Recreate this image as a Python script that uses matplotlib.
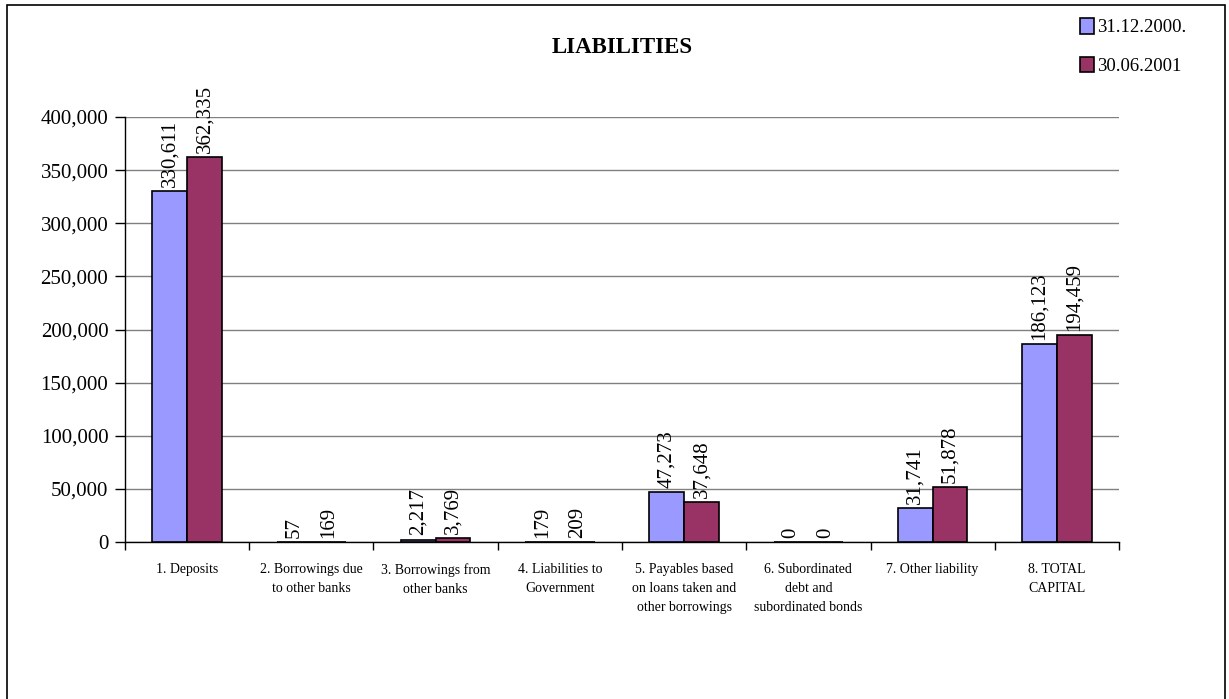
import numpy as np
import matplotlib
matplotlib.use('Agg')
import matplotlib.pyplot as plt
from matplotlib.ticker import FuncFormatter, MultipleLocator
from matplotlib.patches import Rectangle

plt.rcParams['font.family'] = ['Liberation Serif', 'DejaVu Serif']

categories = ['1. Deposits', '2. Borrowings due\nto other banks', '3. Borrowings from\nother banks',
              '4. Liabilities to\nGovernment', '5. Payables based\non loans taken and\nother borrowings',
              '6. Subordinated\ndebt and\nsubordinated bonds', '7. Other liability', '8. TOTAL\nCAPITAL']
series_names = ['31.12.2000.', '30.06.2001']
vals_2000 = [330611, 57, 2217, 179, 47273, 0, 31741, 186123]
vals_2001 = [362335, 169, 3769, 209, 37648, 0, 51878, 194459]
colors = ['#9999FF', '#993366']

fig = plt.figure(figsize=(12.29, 6.99), dpi=100)
ax = fig.add_axes([0.1017, 0.2246, 0.8088, 0.608])

# outer chart frame
fig.patches.append(Rectangle((7 / 1229, -0.05), 1218 / 1229, 1.05 - 5 / 699,
                             transform=fig.transFigure, fill=False, edgecolor='black', lw=1.2))

x = np.arange(len(categories))
w = 0.28
b1 = ax.bar(x - w / 2, vals_2000, w, color=colors[0], edgecolor='black', lw=1.2, label=series_names[0], zorder=3)
b2 = ax.bar(x + w / 2, vals_2001, w, color=colors[1], edgecolor='black', lw=1.2, label=series_names[1], zorder=3)

fmt = lambda v: f'{int(v):,}'
ax.bar_label(b1, labels=[fmt(v) for v in vals_2000], rotation=90, padding=3, fontsize=15)
ax.bar_label(b2, labels=[fmt(v) for v in vals_2001], rotation=90, padding=3, fontsize=15)

ax.set_xlim(-0.5, len(categories) - 0.5)
ax.set_ylim(0, 400000)
ax.yaxis.set_major_locator(MultipleLocator(50000))
ax.yaxis.set_major_formatter(FuncFormatter(lambda v, p: f'{int(v):,}'))
ax.grid(axis='y', color='#808080', lw=1, zorder=0)
ax.tick_params(axis='y', labelsize=15, length=7, direction='out', width=1, pad=5)

ax.set_xticks(x)
ax.set_xticklabels(categories, fontsize=10, linespacing=1.6)
ax.tick_params(axis='x', length=0, pad=15)
ax.set_xticks(np.arange(len(categories) + 1) - 0.5, minor=True)
ax.tick_params(axis='x', which='minor', length=6, width=1)

for s in ['top', 'right']:
    ax.spines[s].set_visible(False)
ax.spines['left'].set_linewidth(1)
ax.spines['bottom'].set_linewidth(1)

fig.text(0.506, 0.932, 'LIABILITIES', ha='center', va='center', fontsize=16.5, fontweight='bold')

fig.legend(handles=[b1, b2], labels=series_names, loc='upper left', bbox_to_anchor=(0.873, 0.985),
           frameon=False, fontsize=13.5, handlelength=0.7, handleheight=0.9, handletextpad=0.2,
           labelspacing=1.1, borderaxespad=0)

fig.savefig('out.png', dpi=100)
